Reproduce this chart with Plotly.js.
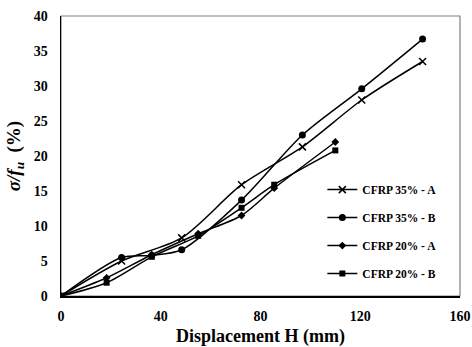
<!DOCTYPE html>
<html>
<head>
<meta charset="utf-8">
<script src="https://cdn.plot.ly/plotly-3.0.1.min.js"></script>
<style>html,body{margin:0;padding:0;background:#fff;}#chart{width:472px;height:347px;}</style>
</head>
<body>
<div id="chart"></div>
<script>
const seriesNames = ["CFRP 35% - A", "CFRP 35% - B", "CFRP 20% - A", "CFRP 20% - B"];
const x35A = [0, 24.3, 48.4, 72.4, 96.8, 120.6, 145];
const y35A = [0, 5.0, 8.3, 15.9, 21.3, 28.0, 33.5];
const x35B = [0, 24.3, 36.4, 48.4, 72.4, 96.8, 120.6, 145];
const y35B = [0, 5.5, 5.8, 6.6, 13.7, 23.0, 29.6, 36.7];
const x20A = [0, 18.3, 36.4, 55, 72.4, 85.5, 110];
const y20A = [0, 2.6, 5.9, 8.9, 11.5, 15.4, 22.0];
const x20B = [0, 18.3, 36.4, 55, 72.4, 85.5, 110];
const y20B = [0, 1.9, 5.6, 8.6, 12.6, 15.9, 20.8];
const xTicks = [0, 40, 80, 120, 160];
const yTicks = [0, 5, 10, 15, 20, 25, 30, 35, 40];

const symbols = ["x-thin", "circle", "diamond", "square"];
const sizes = [7, 7, 6, 6];
const xs = [x35A, x35B, x20A, x20B];
const ys = [y35A, y35B, y20A, y20B];

const traces = seriesNames.map((n, i) => ({
  x: xs[i], y: ys[i], name: n, legendgroup: 'g' + i,
  type: 'scatter', mode: 'lines+markers',
  line: {color: '#000', width: 1.5, shape: 'spline', smoothing: 0.8},
  marker: {symbol: symbols[i], size: sizes[i], color: '#000',
           line: {color: '#000', width: i === 0 ? 1.5 : 0}}
}));

const font = {family: '"Liberation Serif", "Times New Roman", serif', color: '#000'};

const layout = {
  width: 472, height: 347,
  margin: {l: 61, r: 12, t: 16, b: 51},
  paper_bgcolor: '#fff', plot_bgcolor: '#fff',
  font: font,
  showlegend: true,
  legend: {x: 0.655, y: 0.23, xanchor: 'left', yanchor: 'middle',
           font: {family: font.family, size: 11.5, color: '#000', weight: 'bold'},
           tracegroupgap: 9, traceorder: 'grouped', bgcolor: 'rgba(0,0,0,0)', itemwidth: 30},
  xaxis: {
    range: [0, 160], tickvals: xTicks, ticktext: xTicks.map(String),
    showgrid: false, zeroline: false, showline: true, linecolor: '#000', linewidth: 1.5,
    ticks: '', ticklabelstandoff: 7,
    tickfont: {family: font.family, size: 14, color: '#000', weight: 'bold'},
    title: {text: 'Displacement H (mm)', standoff: 9,
            font: {family: font.family, size: 18, color: '#000', weight: 'bold'}}
  },
  yaxis: {
    range: [0, 40], tickvals: yTicks, ticktext: yTicks.map(String),
    showgrid: false, zeroline: false, showline: true, linecolor: '#000', linewidth: 1.5,
    ticks: '', ticklabelstandoff: 9,
    tickfont: {family: font.family, size: 14, color: '#000', weight: 'bold'},
    title: {text: '<i>σ/f<sub>u</sub></i>\u00a0 (%)', standoff: 8,
            font: {family: font.family, size: 19, color: '#000', weight: 'bold'}}
  },
  shapes: [{type: 'rect', xref: 'paper', yref: 'paper', x0: 0, x1: 1, y0: 0, y1: 1,
            line: {color: '#808080', width: 1.2}, layer: 'below'}]
};

Plotly.newPlot('chart', traces, layout, {displayModeBar: false, staticPlot: true});
</script>
</body>
</html>
